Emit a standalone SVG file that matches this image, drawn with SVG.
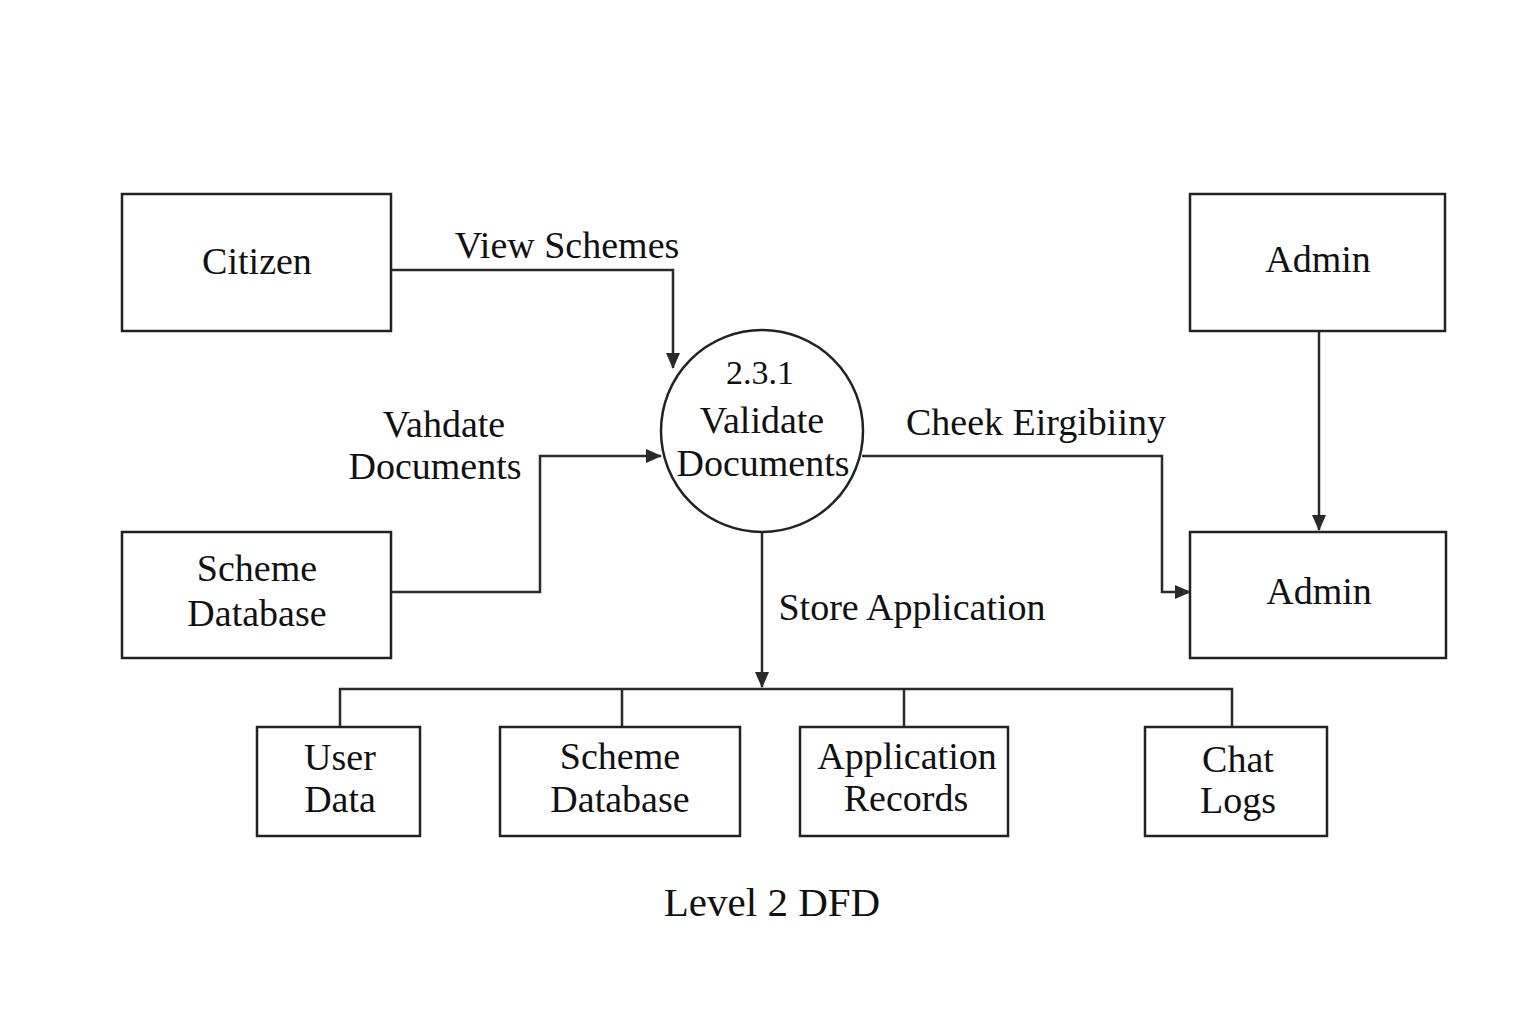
<svg xmlns="http://www.w3.org/2000/svg" width="1536" height="1024" viewBox="0 0 1536 1024">
<defs>
<marker id="arr" markerWidth="16" markerHeight="14" refX="15" refY="7" orient="auto" markerUnits="userSpaceOnUse">
<path d="M0,0 L16,7 L0,14 Z" fill="#2a2a2a"/>
</marker>
<style>
.box{fill:#fff;stroke:#222;stroke-width:2.5}
.ln{fill:none;stroke:#2a2a2a;stroke-width:2.5}
text{font-family:"Liberation Serif","Times New Roman",serif;font-size:38px;fill:#111;text-anchor:middle}
.lbl{font-size:38px}
</style>
</defs>
<rect width="1536" height="1024" fill="#fff"/>
<g id="connectors">
<path class="ln" d="M391,270 H673 V368" marker-end="url(#arr)"/>
<path class="ln" d="M391,592 H540 V456 H661" marker-end="url(#arr)"/>
<path class="ln" d="M862,456 H1162 V592 H1190" marker-end="url(#arr)"/>
<path class="ln" d="M1319,331 V530" marker-end="url(#arr)"/>
<path class="ln" d="M762,532 V687" marker-end="url(#arr)"/>
<path class="ln" d="M340,727 V689 H1232 V727 M622,689 V727 M904,689 V727"/>
</g>
<g id="citizen"><rect class="box" x="122" y="194" width="269" height="137"/><text x="257" y="274">Citizen</text></g>
<g id="admin-top"><rect class="box" x="1190" y="194" width="255" height="137"/><text x="1318" y="272">Admin</text></g>
<g id="admin-bottom"><rect class="box" x="1190" y="532" width="256" height="126"/><text x="1319" y="604">Admin</text></g>
<g id="scheme-db-left"><rect class="box" x="122" y="532" width="269" height="126"/><text x="257" y="581">Scheme</text><text x="257" y="626">Database</text></g>
<g id="process"><circle cx="762" cy="431" r="101" fill="#fff" stroke="#222" stroke-width="2.5"/><text x="760" y="384" style="font-size:34px">2.3.1</text><text x="762" y="433">Validate</text><text x="763" y="476">Documents</text></g>
<g id="user-data"><rect class="box" x="257" y="727" width="163" height="109"/><text x="340" y="770">User</text><text x="340" y="812">Data</text></g>
<g id="scheme-db-bottom"><rect class="box" x="500" y="727" width="240" height="109"/><text x="620" y="769">Scheme</text><text x="620" y="812">Database</text></g>
<g id="application-records"><rect class="box" x="800" y="727" width="208" height="109"/><text x="907" y="769">Application</text><text x="906" y="811">Records</text></g>
<g id="chat-logs"><rect class="box" x="1145" y="727" width="182" height="109"/><text x="1238" y="772">Chat</text><text x="1238" y="813">Logs</text></g>
<g id="labels">
<text class="lbl" x="567" y="258">View Schemes</text>
<text class="lbl" x="444" y="437">Vahdate</text>
<text class="lbl" x="435" y="479">Documents</text>
<text class="lbl" x="1036" y="435">Cheek Eirgibiiny</text>
<text class="lbl" x="912" y="620">Store Application</text>
<text x="772" y="916" style="font-size:41px">Level 2 DFD</text>
</g>
</svg>
